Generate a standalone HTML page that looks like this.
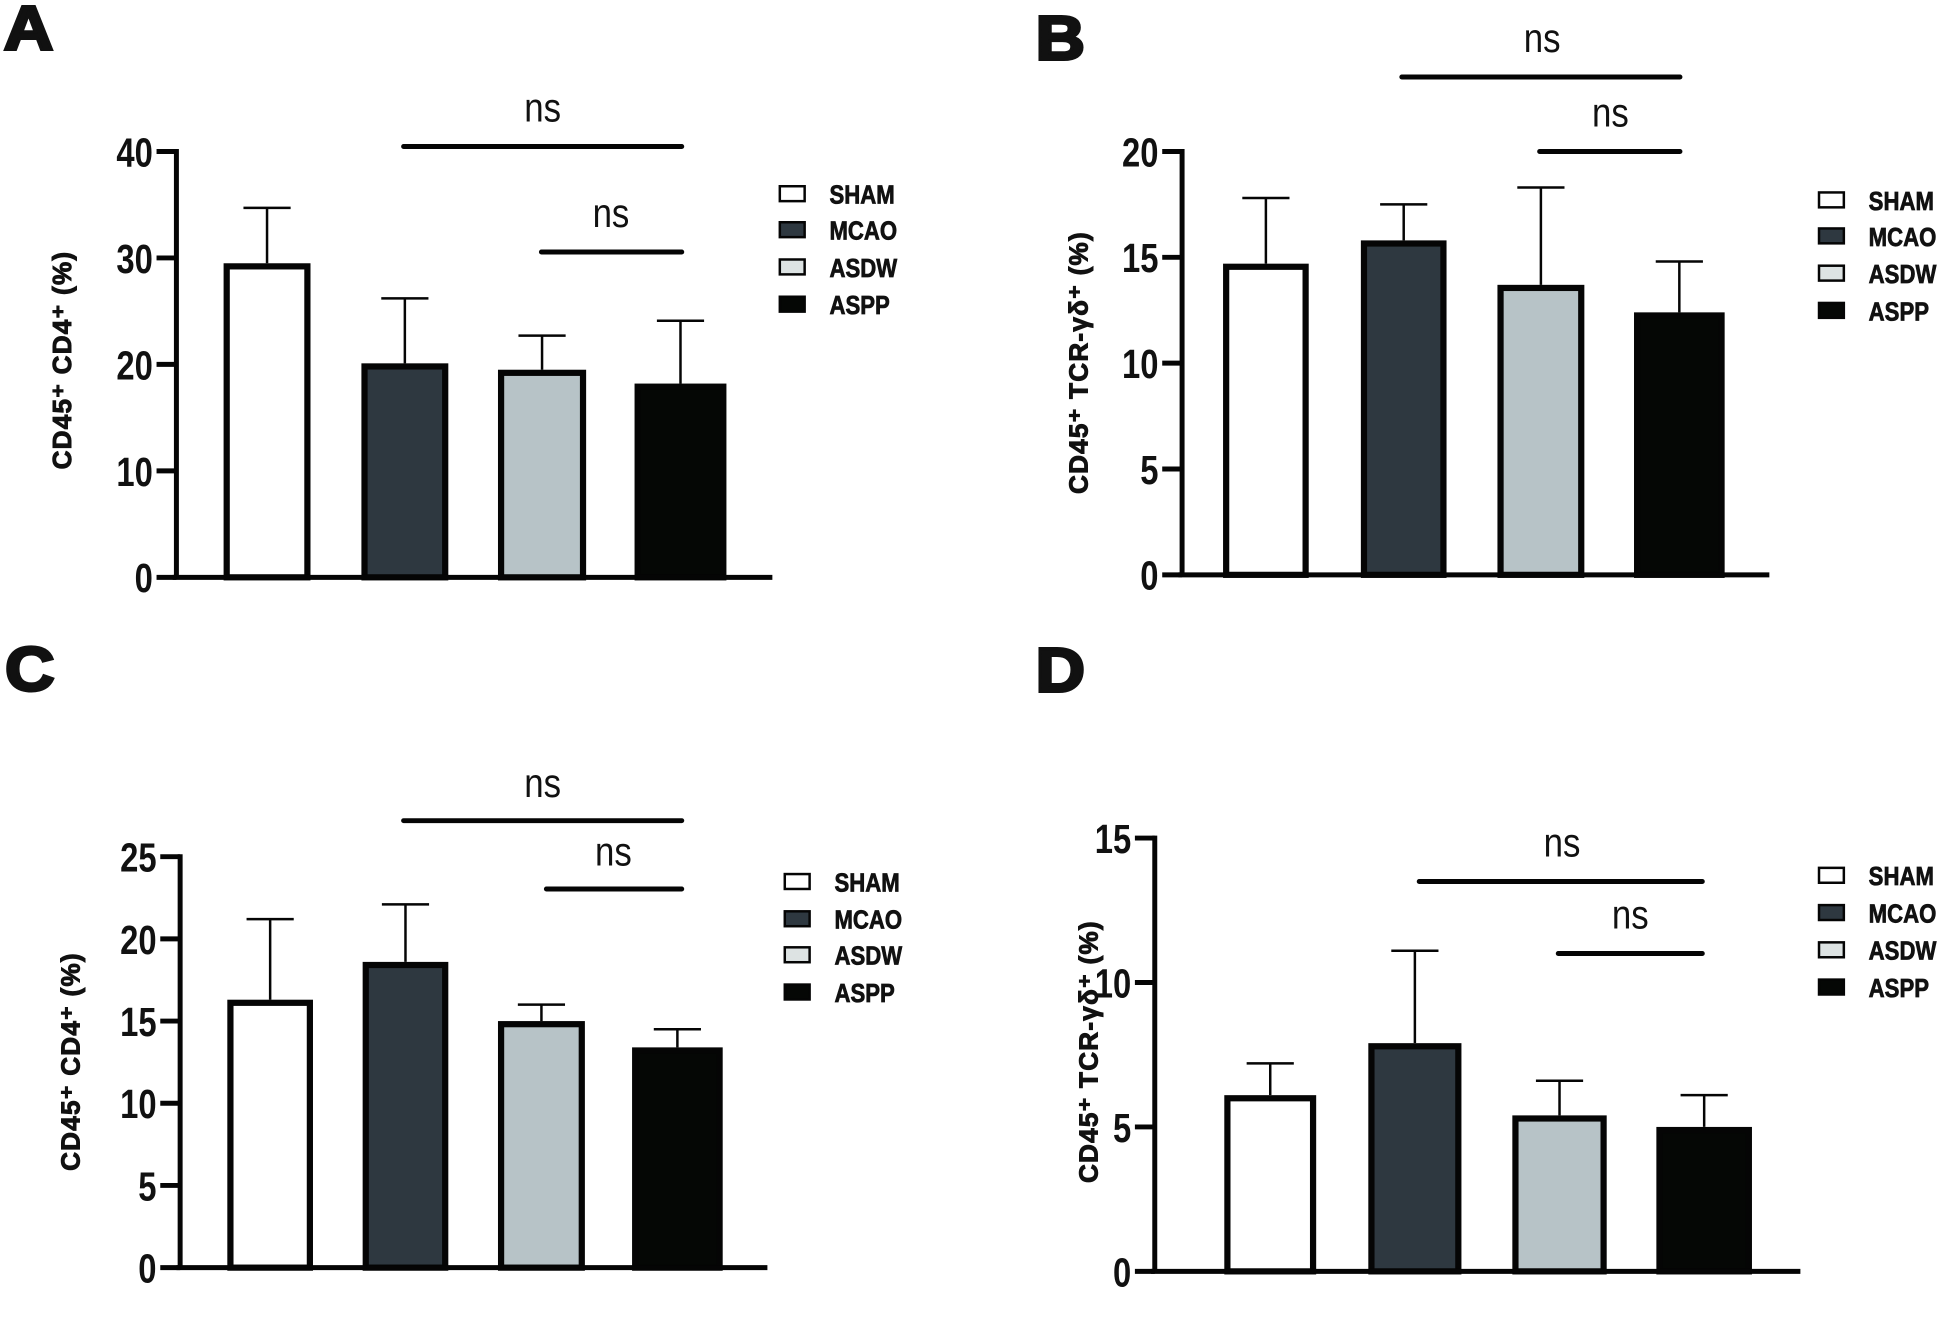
<!DOCTYPE html>
<html><head><meta charset="utf-8"><style>
html,body{margin:0;padding:0;background:#fff;}
svg{display:block;}
text{font-family:"Liberation Sans",sans-serif;}
</style></head><body>
<svg id="fig" width="1947" height="1326" viewBox="0 0 1568 1068" xmlns="http://www.w3.org/2000/svg"></svg>
<script>
const categories = ["SHAM","MCAO","ASDW","ASPP"];
const valuesA = [29.5, 20.1, 19.5, 18.2];
const errorsA = [34.7, 26.2, 22.7, 24.1];
const ticksA = [0,10,20,30,40];
const valuesB = [14.7, 15.8, 13.7, 12.4];
const errorsB = [17.8, 17.5, 18.3, 14.8];
const ticksB = [0,5,10,15,20];
const valuesC = [16.3, 18.6, 15.0, 13.4];
const errorsC = [21.2, 22.1, 16.0, 14.5];
const ticksC = [0,5,10,15,20,25];
const valuesD = [6.1, 7.9, 5.4, 5.0];
const errorsD = [7.2, 11.1, 6.6, 6.1];
const ticksD = [0,5,10,15];

const fills = ["#ffffff","#2e3840","#b7c3c7","#050705"];
const legendFills = ["#ffffff","#2e3840","#dde3e3","#050705"];
const NS = "http://www.w3.org/2000/svg";
const svg = document.getElementById("fig");
function mk(tag, attrs, parent){const e=document.createElementNS(NS,tag);for(const k in attrs)e.setAttribute(k,attrs[k]);(parent||svg).appendChild(e);return e;}
function txt(parent,x,y,sx,str,attrs){const a=Object.assign({x:0,y:0,transform:`translate(${x},${y}) scale(${sx},1)`,fill:"#111"},attrs);const t=mk("text",a,parent);t.textContent=str;return t;}

const panels = [
 {id:"a",letter:"A",lx:2,ly:40,ax:142,top:122,zero:465,right:622,max:40,vals:valuesA,errs:errorsA,ticks:ticksA,
  bars:[[180,250],[291,361],[401,472],[511,585]],label:"CD45⁺ CD4⁺ (%)",labx:57,laby:290,
  sig:[[325,549,118,437,88],[436,549,203,492,173]],legx:627,legy:[156,185,215,245]},
 {id:"b",letter:"B",lx:833,ly:48,ax:952,top:122,zero:463,right:1425,max:20,vals:valuesB,errs:errorsB,ticks:ticksB,
  bars:[[985,1054],[1096,1165],[1206,1276],[1316,1389]],label:"CD45⁺ TCR-γδ⁺ (%)",labx:876,laby:292,
  sig:[[1129,1353,62,1242,32],[1240,1353,122,1297,92]],legx:1464,legy:[161,190,220,250]},
 {id:"c",letter:"C",lx:3,ly:556,ax:145,top:690,zero:1021,right:618,max:25,vals:valuesC,errs:errorsC,ticks:ticksC,
  bars:[[183,252],[292,361],[401,471],[509,582]],label:"CD45⁺ CD4⁺ (%)",labx:64,laby:855,
  sig:[[325,549,661,437,632],[440,549,716,494,687]],legx:631,legy:[710,740,769,799]},
 {id:"d",letter:"D",lx:833,ly:557,ax:930,top:675,zero:1024,right:1450,max:15,vals:valuesD,errs:errorsD,ticks:ticksD,
  bars:[[986,1060],[1102,1177],[1218,1294],[1334,1411]],label:"CD45⁺ TCR-γδ⁺ (%)",labx:884,laby:847,
  sig:[[1143,1371,710,1258,680],[1255,1371,768,1313,738]],legx:1464,legy:[705,735,765,795]}
];

panels.forEach(p=>{
  const g = mk("g",{});
  
  
  const y = v => p.zero - (v/p.max)*(p.zero-p.top);
  const lt = txt(g,p.lx+1,p.ly,1.1,p.letter,{"font-size":50,"font-weight":"bold",stroke:"#111","stroke-width":2.5});
  
  
  p.vals.forEach((v,i)=>{
    const [x0,x1]=p.bars[i];
    const yt=y(v);
    const r=mk("rect",{x:x0+2.5,y:yt+2.5,width:x1-x0-5,height:p.zero-yt-2.5,fill:fills[i],stroke:"#050505","stroke-width":5},g);
    
    
    const cx=(x0+x1)/2, ye=y(p.errs[i]);
    const e=mk("path",{d:`M${cx},${yt} V${ye} M${cx-19},${ye} H${cx+19}`,stroke:"#050505","stroke-width":2,fill:"none"},g);
    
    
  });
  const axis=mk("path",{d:`M${p.ax},${p.top-2} V${p.zero} M${p.ax-3},${p.zero} H${p.right}`,stroke:"#050505","stroke-width":4,fill:"none"},g);
  
  
  p.ticks.forEach(t=>{
    const ty=y(t);
    mk("line",{x1:p.ax-16,x2:p.ax,y1:ty,y2:ty,stroke:"#050505","stroke-width":4},g);
    const tl=txt(g,p.ax-19,ty+12,0.8,String(t),{"font-size":33,"font-weight":"bold","text-anchor":"end"});
    
    
  });
  const yl=mk("text",{x:0,y:0,"font-size":21,"font-weight":"bold","text-anchor":"middle",fill:"#111",stroke:"#111","stroke-width":0.8,"letter-spacing":"1",transform:`translate(${p.labx},${p.laby}) rotate(-90)`},g);
  yl.textContent=p.label;
  
  
  p.sig.forEach(s=>{
    const l=mk("line",{x1:s[0],x2:s[1],y1:s[2],y2:s[2],stroke:"#050505","stroke-width":4,"stroke-linecap":"round"},g);
    
    
    const t=txt(g,s[3],s[4]+10,0.85,"ns",{"font-size":33,"text-anchor":"middle"});
    
    
  });
  categories.forEach((c,i)=>{
    const ly=p.legy[i];
    const sw=mk("rect",{x:p.legx+1,y:ly-6,width:20,height:12,fill:legendFills[i],stroke:"#050505","stroke-width":2},g);
    
    
    const t=txt(g,p.legx+41,ly+8,0.85,c,{"font-size":21,"font-weight":"bold",stroke:"#111","stroke-width":0.6});
    
    
  });
});
</script>
</body></html>
